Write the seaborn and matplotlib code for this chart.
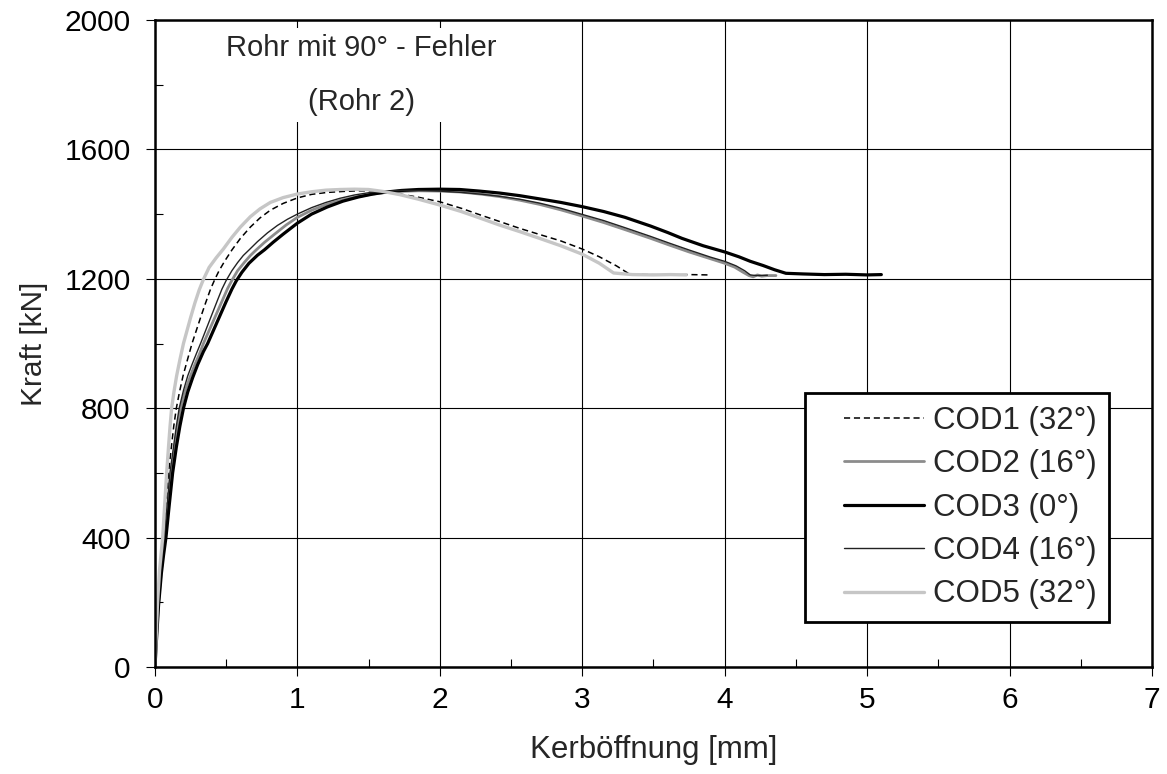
import matplotlib
matplotlib.use("Agg")
import matplotlib.pyplot as plt
import seaborn as sns
import pandas as pd
from matplotlib.ticker import MultipleLocator
from matplotlib.legend_handler import HandlerLine2D

# ---------------- data ----------------
x_cod1 = [0, 0.01, 0.022, 0.038, 0.06, 0.077, 0.095, 0.115, 0.132, 0.15, 0.172, 0.197, 0.225, 0.26,
          0.29, 0.32, 0.355, 0.39, 0.42, 0.45, 0.49, 0.54, 0.60, 0.67, 0.737, 0.81, 0.90, 1.00,
          1.10, 1.21, 1.32, 1.42, 1.52, 1.62, 1.72, 1.85, 2.00, 2.15, 2.28, 2.42, 2.56, 2.70,
          2.85, 3.00, 3.12, 3.24, 3.33, 3.45, 3.60, 3.75, 3.88]
y_cod1 = [0, 90, 200, 300, 400, 500, 600, 680, 745, 800, 850, 900, 945, 1000,
          1040, 1080, 1125, 1168, 1198, 1225, 1255, 1289, 1325, 1360, 1388, 1412, 1433, 1450,
          1461, 1467, 1470, 1472, 1472, 1469, 1462, 1452, 1438, 1418, 1398, 1377, 1356, 1337,
          1317, 1292, 1268, 1240, 1215, 1213, 1212, 1213, 1212]

x_cod2 = [0, 0.01, 0.025, 0.045, 0.07, 0.092, 0.115, 0.14, 0.16, 0.18, 0.21, 0.245, 0.28, 0.31,
          0.34, 0.38, 0.42, 0.47, 0.51, 0.54, 0.58, 0.63, 0.67, 0.71, 0.77, 0.84, 0.92, 1.00,
          1.10, 1.20, 1.30, 1.40, 1.50, 1.60, 1.72, 1.85, 2.00, 2.15, 2.30, 2.42, 2.56, 2.70,
          2.85, 3.00, 3.15, 3.30, 3.48, 3.60, 3.75, 3.90, 4.00, 4.07, 4.13, 4.17, 4.20, 4.23,
          4.26, 4.30, 4.36]
y_cod2 = [0, 90, 200, 300, 400, 500, 600, 680, 745, 800, 850, 895, 935, 965,
          1000, 1040, 1080, 1130, 1170, 1195, 1225, 1252, 1272, 1289, 1313, 1338, 1366, 1390,
          1412, 1429, 1442, 1452, 1460, 1466, 1470, 1472, 1471, 1468, 1461, 1454, 1443, 1430,
          1413, 1394, 1374, 1352, 1325, 1306, 1283, 1262, 1248, 1236, 1220, 1210, 1206, 1212,
          1208, 1210, 1210]

x_cod3 = [0, 0.01, 0.025, 0.045, 0.06, 0.077, 0.10, 0.124, 0.15, 0.175, 0.20, 0.23, 0.265, 0.30,
          0.34, 0.37, 0.41, 0.45, 0.50, 0.54, 0.57, 0.61, 0.66, 0.72, 0.77, 0.83, 0.90, 1.00,
          1.10, 1.21, 1.32, 1.43, 1.53, 1.62, 1.73, 1.85, 2.00, 2.14, 2.28, 2.42, 2.56, 2.70,
          2.85, 3.00, 3.15, 3.30, 3.48, 3.60, 3.70, 3.85, 4.00, 4.10, 4.18, 4.27, 4.35, 4.43,
          4.55, 4.70, 4.85, 5.00, 5.10]
y_cod3 = [0, 80, 190, 290, 345, 400, 500, 600, 680, 745, 800, 850, 895, 935,
          975, 1000, 1040, 1080, 1130, 1168, 1193, 1220, 1248, 1273, 1290, 1313, 1338, 1372,
          1400, 1422, 1440, 1453, 1462, 1468, 1473, 1476, 1477, 1476, 1471, 1465, 1457, 1447,
          1436, 1423, 1408, 1390, 1363, 1343, 1325, 1302, 1283, 1268, 1254, 1241, 1228, 1217,
          1215, 1213, 1214, 1212, 1213]

x_cod4 = [0, 0.01, 0.025, 0.042, 0.065, 0.085, 0.105, 0.13, 0.15, 0.17, 0.20, 0.23, 0.26, 0.29,
          0.32, 0.36, 0.40, 0.44, 0.47, 0.50, 0.54, 0.58, 0.62, 0.66, 0.72, 0.79, 0.86, 0.93,
          1.00, 1.10, 1.20, 1.30, 1.40, 1.50, 1.60, 1.72, 1.85, 2.00, 2.15, 2.30, 2.42, 2.56,
          2.70, 2.85, 3.00, 3.15, 3.30, 3.48, 3.60, 3.75, 3.90, 4.00, 4.08, 4.14, 4.18, 4.22,
          4.30]
y_cod4 = [0, 90, 200, 300, 400, 500, 600, 680, 745, 800, 855, 900, 935, 968,
          1000, 1045, 1090, 1135, 1168, 1195, 1225, 1250, 1272, 1289, 1315, 1342, 1365, 1384,
          1400, 1420, 1436, 1449, 1459, 1466, 1470, 1473, 1473, 1471, 1467, 1461, 1455, 1446,
          1434, 1418, 1399, 1380, 1358, 1331, 1312, 1289, 1267, 1254, 1240, 1225, 1212, 1210,
          1211]

x_cod5 = [0, 0.008, 0.018, 0.032, 0.054, 0.068, 0.082, 0.095, 0.106, 0.117, 0.133, 0.152, 0.175,
          0.20, 0.225, 0.25, 0.28, 0.31, 0.34, 0.38, 0.43, 0.48, 0.54, 0.60, 0.67, 0.737, 0.81,
          0.90, 1.00, 1.10, 1.20, 1.30, 1.40, 1.50, 1.60, 1.72, 1.85, 2.00, 2.15, 2.28, 2.42,
          2.56, 2.70, 2.85, 3.00, 3.12, 3.22, 3.35, 3.50, 3.62, 3.73]
y_cod5 = [0, 90, 200, 300, 400, 500, 600, 680, 745, 800, 850, 900, 950,
          1000, 1040, 1080, 1125, 1165, 1198, 1235, 1265, 1292, 1328, 1360, 1392, 1416, 1436,
          1451, 1462, 1469, 1474, 1476, 1477, 1476, 1470, 1460, 1446, 1428, 1408, 1388, 1366,
          1346, 1325, 1302, 1276, 1248, 1218, 1213, 1212, 1213, 1212]

labels = ["COD1 (32°)", "COD2 (16°)", "COD3 (0°)", "COD4 (16°)", "COD5 (32°)"]
x_ticks = [0, 1, 2, 3, 4, 5, 6, 7]
y_ticks = [0, 400, 800, 1200, 1600, 2000]


class RightAlignedLine(HandlerLine2D):
    """Legend line drawn only in the right part of the handle box."""
    def __init__(self, frac=0.25, **kw):
        super().__init__(**kw)
        self.frac = frac

    def create_artists(self, legend, orig_handle, xdescent, ydescent,
                       width, height, fontsize, trans):
        shift = width * self.frac
        return super().create_artists(legend, orig_handle, xdescent - shift,
                                      ydescent, width - shift, height,
                                      fontsize, trans)


# ---------------- styling ----------------
sns.set_style("white")
plt.rcParams["font.family"] = ["Liberation Sans", "DejaVu Sans"]

fig = plt.figure(figsize=(11.67, 7.74), dpi=100)
ax = fig.add_axes([0.1328, 0.1382, 0.8543, 0.836])

series = [
    (x_cod1, y_cod1, dict(color="black", linewidth=1.1), (4, 2.5)),
    (x_cod2, y_cod2, dict(color="#8c8c8c", linewidth=2.0), None),
    (x_cod3, y_cod3, dict(color="black", linewidth=2.3), None),
    (x_cod4, y_cod4, dict(color="#222222", linewidth=1.0), None),
    (x_cod5, y_cod5, dict(color="#c6c6c6", linewidth=2.4), None),
]

handles = []
for (xs, ys, st, dashes), lab in zip(series, labels):
    df = pd.DataFrame({"x": xs, "y": ys})
    sns.lineplot(data=df, x="x", y="y", ax=ax, sort=False, estimator=None,
                 label=lab, **st)
    line = ax.get_lines()[-1]
    if dashes is not None:
        line.set_dashes(dashes)
    handles.append(line)

ax.set_xlim(0, 7)
ax.set_ylim(0, 2000)
ax.set_xticks(x_ticks)
ax.set_yticks(y_ticks)
ax.xaxis.set_minor_locator(MultipleLocator(0.5))
ax.yaxis.set_minor_locator(MultipleLocator(200))

ax.grid(True, which="major", color="black", linewidth=0.8)
ax.set_axisbelow(True)
ax.tick_params(which="both", bottom=True, left=True, top=False, right=False)
ax.tick_params(which="major", direction="out", length=6.5, width=0.8,
               labelsize=21.5, colors="black", pad=7)
ax.tick_params(axis="y", which="major", pad=11)
ax.tick_params(which="minor", direction="in", length=5.5, width=0.8, colors="black")

for sp in ax.spines.values():
    sp.set_visible(True)
    sp.set_color("black")
    sp.set_linewidth(1.8)

ax.set_xlabel("Kerböffnung [mm]", fontsize=22.5, labelpad=15)
ax.set_ylabel("Kraft [kN]", fontsize=21.5, labelpad=12)

ax.text(1.45, 1830, "Rohr mit 90° - Fehler\n(Rohr 2)", ha="center", va="center",
        fontsize=21, linespacing=2.2, zorder=3,
        bbox=dict(facecolor="white", edgecolor="none", pad=4))

leg = ax.legend(handles=handles, labels=labels, loc="lower left",
                bbox_to_anchor=(0.652, 0.0696), fontsize=22.5, frameon=True,
                fancybox=False, framealpha=1, edgecolor="black",
                handlelength=3.4, handletextpad=0.3, labelspacing=0.43,
                borderpad=0.4, borderaxespad=0,
                handler_map={h: RightAlignedLine(frac=0.245) for h in handles})
leg.get_frame().set_linewidth(2.0)

fig.savefig("out.png", dpi=100, facecolor="white")
